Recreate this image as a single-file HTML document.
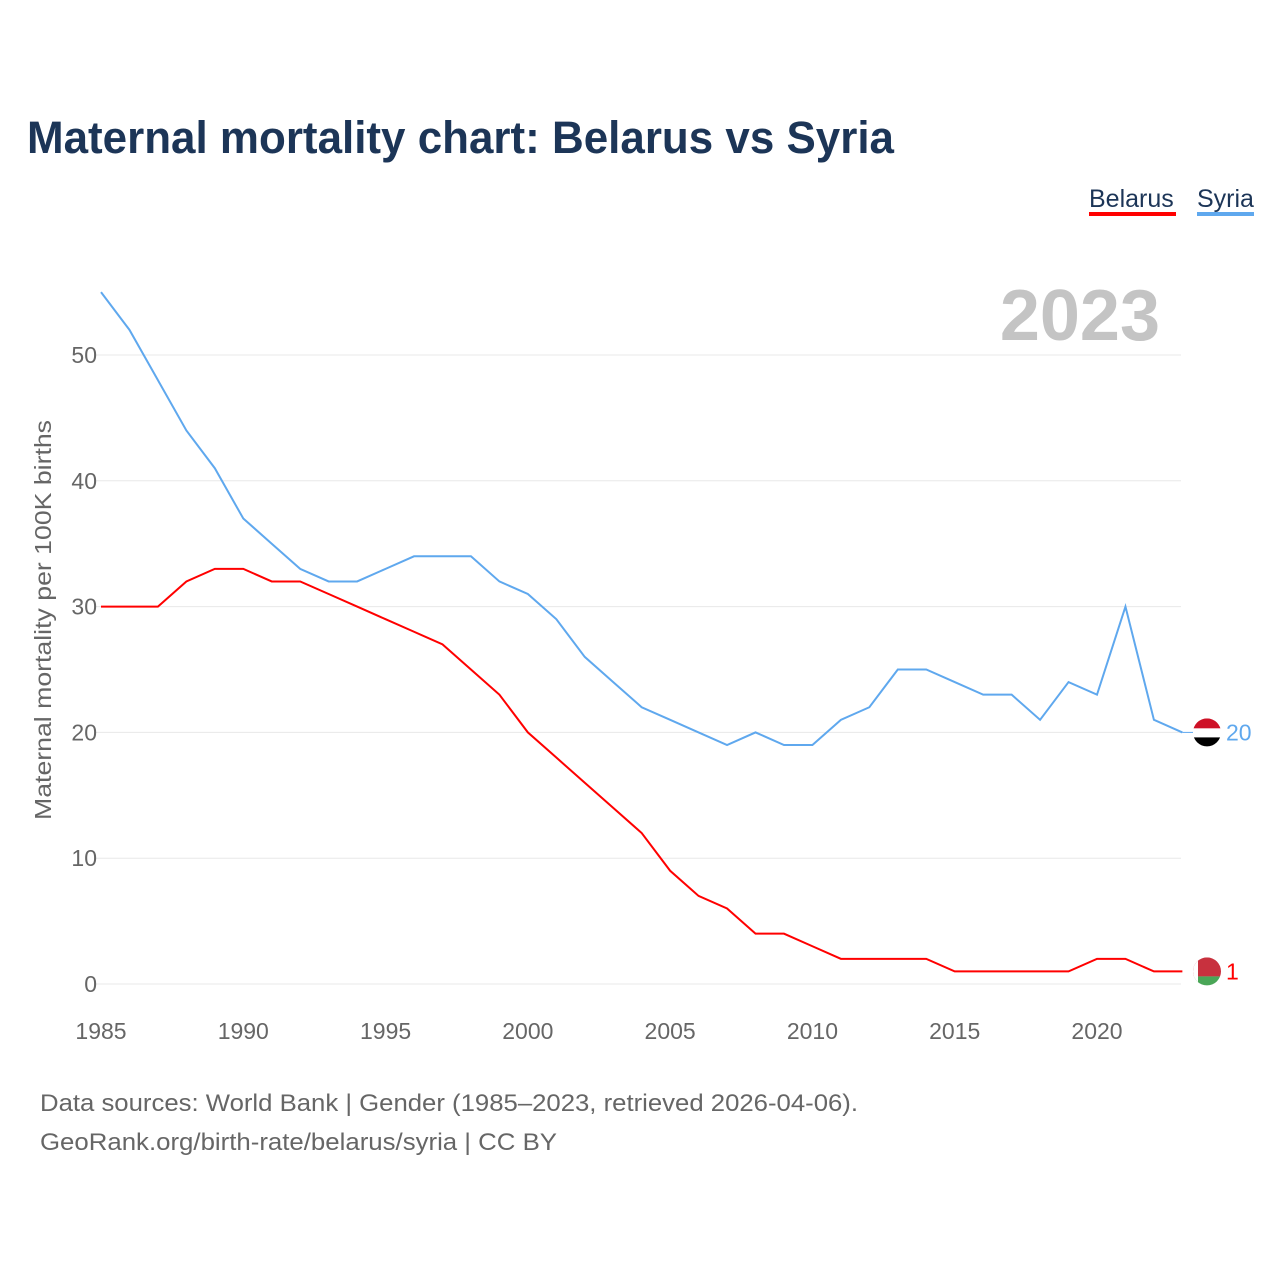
<!DOCTYPE html>
<html><head><meta charset="utf-8"><style>
body{margin:0;background:#fff;font-family:"Liberation Sans",sans-serif;}
#wrap{position:relative;width:1280px;height:1280px;}
</style></head><body>
<div id="wrap">
<svg id="chart" width="1280" height="1280">
<text x="27" y="153" font-size="45" font-weight="bold" fill="#1c3557" textLength="867" lengthAdjust="spacingAndGlyphs">Maternal mortality chart: Belarus vs Syria</text>
<g><text x="1089" y="207" font-size="25" fill="#1c3557">Belarus</text><rect x="1089" y="212" width="87" height="4" fill="#ff0000"/></g>
<g><text x="1197" y="207" font-size="25" fill="#1c3557">Syria</text><rect x="1197" y="212" width="57" height="4" fill="#5fa8ee"/></g>
<text x="1160" y="340" font-size="72" font-weight="bold" fill="#c4c4c4" text-anchor="end">2023</text>
<text transform="translate(51,620) rotate(-90)" font-size="23" fill="#666" text-anchor="middle" textLength="400" lengthAdjust="spacingAndGlyphs">Maternal mortality per 100K births</text>
<g id="grid"></g><g id="xt"></g><g id="lines"></g>
<text x="40" y="1111" font-size="24" fill="#666" textLength="818" lengthAdjust="spacingAndGlyphs">Data sources: World Bank | Gender (1985–2023, retrieved 2026-04-06).</text>
<text x="40" y="1150" font-size="24" fill="#666" textLength="517" lengthAdjust="spacingAndGlyphs">GeoRank.org/birth-rate/belarus/syria | CC BY</text>
</svg></div>
<script>
const years=[];for(let y=1985;y<=2023;y++)years.push(y);
const syria=[55,52,48,44,41,37,35,33,32,32,33,34,34,34,32,31,29,26,24,22,21,20,19,20,19,19,21,22,25,25,24,23,23,21,24,23,30,21,20];
const belarus=[30,30,30,32,33,33,32,32,31,30,29,28,27,25,23,20,18,16,14,12,9,7,6,4,4,3,2,2,2,2,1,1,1,1,1,2,2,1,1];
const yTicks=[0,10,20,30,40,50];
const xTicks=[1985,1990,1995,2000,2005,2010,2015,2020];
const X=y=>101+(y-1985)*996/35;
const Y=v=>984-v*12.58;
const NS="http://www.w3.org/2000/svg";
function mk(t,a,p){const e=document.createElementNS(NS,t);for(const k in a)e.setAttribute(k,a[k]);p.appendChild(e);return e;}
const grid=document.getElementById('grid'),xt=document.getElementById('xt'),lines=document.getElementById('lines');
yTicks.forEach(v=>{
 const l=mk('line',{x1:95,x2:1181,y1:Y(v),y2:Y(v),stroke:'#e8e8e8','stroke-width':1},grid);
 
 
 const t=mk('text',{x:97,y:Y(v)+8,'font-size':23,fill:'#666','text-anchor':'end'},grid);t.textContent=v;
 
 
});
xTicks.forEach(v=>{
 const t=mk('text',{x:X(v),y:1039,'font-size':23,fill:'#666','text-anchor':'middle'},xt);t.textContent=v;
 
 
});
function series(vals,color,name){
 const p=mk('polyline',{points:vals.map((v,i)=>X(years[i])+','+Y(v)).join(' '),fill:'none',stroke:color,'stroke-width':2},lines);
 
 
}
series(syria,'#5fa8ee','syria');series(belarus,'#ff0000','belarus');
const ls=syria[syria.length-1],lb=belarus[belarus.length-1],ex=X(2023);
const fs=mk('g',{},lines);


const cs=mk('clipPath',{id:'cs'},fs);mk('circle',{cx:1207,cy:Y(ls),r:14},cs);
mk('rect',{x:1193,y:Y(ls)-14,width:28,height:10,fill:'#ce1126','clip-path':'url(#cs)'},fs);
mk('rect',{x:1193,y:Y(ls)-4,width:28,height:9,fill:'#fff','clip-path':'url(#cs)'},fs);
mk('rect',{x:1193,y:Y(ls)+5,width:28,height:10,fill:'#000','clip-path':'url(#cs)'},fs);
mk('line',{x1:ex,x2:1193,y1:Y(ls),y2:Y(ls),stroke:'#5fa8ee','stroke-width':1},lines);
const ts=mk('text',{x:1226,y:Y(ls)+8,'font-size':23,fill:'#5fa8ee'},lines);ts.textContent=ls;


const fb=mk('g',{},lines);


const cp=mk('clipPath',{id:'cb'},fb);mk('circle',{cx:1207,cy:Y(lb),r:14},cp);
mk('rect',{x:1193,y:Y(lb)-14,width:28,height:19,fill:'#c8313e','clip-path':'url(#cb)'},fb);
mk('rect',{x:1193,y:Y(lb)+5,width:28,height:10,fill:'#4aa657','clip-path':'url(#cb)'},fb);
mk('rect',{x:1193,y:Y(lb)-14,width:5,height:28,fill:'#fff','clip-path':'url(#cb)'},fb);
const tb=mk('text',{x:1226,y:Y(lb)+8,'font-size':23,fill:'#ff0000'},lines);tb.textContent=lb;


</script></body></html>
